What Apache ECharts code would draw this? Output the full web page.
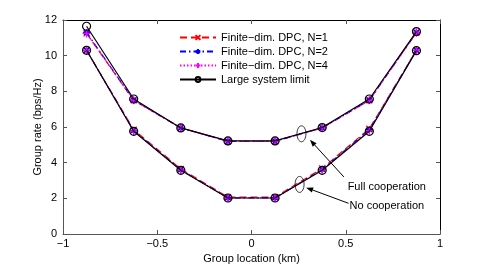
<!DOCTYPE html>
<html><head><meta charset="utf-8">
<script src="https://cdn.jsdelivr.net/npm/echarts@6/dist/echarts.min.js"></script>
<style>html,body{margin:0;padding:0;background:#fff}#c{width:485px;height:265px}</style>
</head><body><div id="c"></div>
<script>
var xs = [-0.875, -0.625, -0.375, -0.125, 0.125, 0.375, 0.625, 0.875];
var fullN1 = [11.25, 7.5, 5.95, 5.2, 5.2, 5.95, 7.5, 11.3];
var fullN2 = [11.3, 7.5, 5.95, 5.2, 5.2, 5.95, 7.5, 11.3];
var fullN4 = [11.25, 7.5, 5.95, 5.2, 5.2, 5.95, 7.5, 11.3];
var fullLim = [11.65, 7.57, 5.95, 5.22, 5.22, 5.97, 7.57, 11.35];
var noN1 = [10.3, 5.85, 3.65, 2.07, 2.07, 3.68, 5.9, 10.3];
var noN2 = [10.3, 5.8, 3.6, 2.03, 2.03, 3.62, 5.85, 10.3];
var noN4 = [10.3, 5.78, 3.58, 2.02, 2.02, 3.6, 5.8, 10.3];
var noLim = [10.3, 5.76, 3.57, 2.02, 2.02, 3.57, 5.76, 10.28];
var xTicks = [-1, -0.5, 0, 0.5, 1];
var yTicks = [0, 2, 4, 6, 8, 10, 12];
var names = ['Finite\u2212dim. DPC, N=1', 'Finite\u2212dim. DPC, N=2', 'Finite\u2212dim. DPC, N=4', 'Large system limit'];

var FONT = 'Liberation Sans';
var chart = echarts.init(document.getElementById('c'));
function pts(ys){ return xs.map(function(x,i){ return [x, ys[i]]; }); }
var symX = 'path://M0,0L10,10M10,0L0,10';
var symStar = 'path://M5,0L5,10M0,5L10,5M1.5,1.5L8.5,8.5M8.5,1.5L1.5,8.5';
var symPlus = 'path://M5,0L5,10M0,5L10,5';
var styles = [
  {color:'#ff0000', type:[7,4], symbol:symX, size:6},
  {color:'#0000ff', type:[6,3,1.5,3], symbol:symStar, size:7},
  {color:'#ff00ff', type:[1.5,2], symbol:symPlus, size:8},
  {color:'#000000', type:'solid', symbol:'circle', size:8}
];
var sets = [[fullN1,noN1],[fullN2,noN2],[fullN4,noN4],[fullLim,noLim]];
var series = [];
sets.forEach(function(pair, k){
  var s = styles[k];
  pair.forEach(function(ys){
    series.push({
      name: names[k], type:'line', data: pts(ys), symbol: s.symbol, symbolSize: s.size,
      showSymbol:true, animation:false, z: 2 + k,
      lineStyle:{color:s.color, width:1.2, type:s.type},
      itemStyle: k===3 ? {color:'rgba(0,0,0,0)', borderColor:'#000', borderWidth:1.2}
                       : {color:s.color, borderColor:s.color, borderWidth:1.3},
      emphasis:{disabled:true}
    });
  });
});
var tick = {inside:true, length:4, lineStyle:{color:'#555'}};
function line(c){ return {show:true, onZero:false, lineStyle:{color:c, width:1}}; }
chart.setOption({
  animation:false,
  grid:{left:63, right:45, top:20, bottom:31, containLabel:false, outerBoundsMode:'none'},
  legend:{
    data: names, orient:'vertical', left:174, top:27, itemWidth:36, itemHeight:6, itemGap:3,
    textStyle:{fontFamily:FONT, fontSize:11, color:'#000'}, selectedMode:false
  },
  xAxis:[
    {type:'value', min:-1, max:1, interval:0.5, position:'bottom',
     axisLine:line('#555'), axisTick:tick,
     axisLabel:{fontFamily:FONT, fontSize:11, color:'#000', margin:4,
       formatter:function(v){ return xTicks.indexOf(v)>=0 ? String(v).replace('-','\u2212') : ''; }},
     splitLine:{show:false},
     name:'Group location (km)', nameLocation:'middle', nameGap:19, nameMoveOverlap:false,
     nameTextStyle:{fontFamily:FONT, fontSize:11, color:'#000'}},
    {type:'value', min:-1, max:1, interval:0.5, position:'top',
     axisLine:line('#000'), axisTick:tick,
     axisLabel:{show:false}, splitLine:{show:false}}
  ],
  yAxis:[
    {type:'value', min:0, max:12, interval:2, position:'left',
     axisLine:line('#555'), axisTick:tick,
     axisLabel:{fontFamily:FONT, fontSize:11, color:'#000', margin:6,
       formatter:function(v){ return yTicks.indexOf(v)>=0 ? String(v) : ''; }},
     splitLine:{show:false},
     name:'Group rate (bps/Hz)', nameLocation:'middle', nameGap:20, nameMoveOverlap:false,
     nameTextStyle:{fontFamily:FONT, fontSize:11, color:'#000'}},
    {type:'value', min:0, max:12, interval:2, position:'right',
     axisLine:line('#000'), axisTick:tick,
     axisLabel:{show:false}, splitLine:{show:false}}
  ],
  series: series
});

function P(x,y){ return chart.convertToPixel({xAxisIndex:0, yAxisIndex:0}, [x,y]); }
function arrow(from, to){
  var a = P(from[0],from[1]), b = P(to[0],to[1]);
  var dx=b[0]-a[0], dy=b[1]-a[1], L=Math.sqrt(dx*dx+dy*dy), ux=dx/L, uy=dy/L;
  var hl=7, hw=2.6;
  var bx=b[0]-ux*hl, by=b[1]-uy*hl;
  return [
    {type:'line', shape:{x1:a[0],y1:a[1],x2:bx,y2:by}, style:{stroke:'#000', lineWidth:1}, silent:true, z:100},
    {type:'polygon', shape:{points:[[b[0],b[1]],[bx-uy*hw,by+ux*hw],[bx+uy*hw,by-ux*hw]]}, style:{fill:'#000'}, silent:true, z:100}
  ];
}
function ell(cx, cy){
  var c = P(cx, cy);
  return {type:'ellipse', shape:{cx:c[0], cy:c[1], rx:4.5, ry:8}, style:{fill:'none', stroke:'#000', lineWidth:0.8}, silent:true, z:100};
}
function txt(x, y, s){
  var c = P(x, y);
  return {type:'text', x:c[0], y:c[1], style:{text:s, fill:'#000', font:'11px "'+FONT+'"', textVerticalAlign:'middle', textAlign:'left'}, silent:true, z:100};
}
var g = [ell(0.265, 5.62), ell(0.255, 2.78), txt(0.51, 2.62, 'Full cooperation'), txt(0.52, 1.55, 'No cooperation')];
g = g.concat(arrow([0.49, 3.2], [0.31, 5.28])).concat(arrow([0.515, 1.72], [0.29, 2.6]));
chart.setOption({graphic: g});
</script></body></html>
